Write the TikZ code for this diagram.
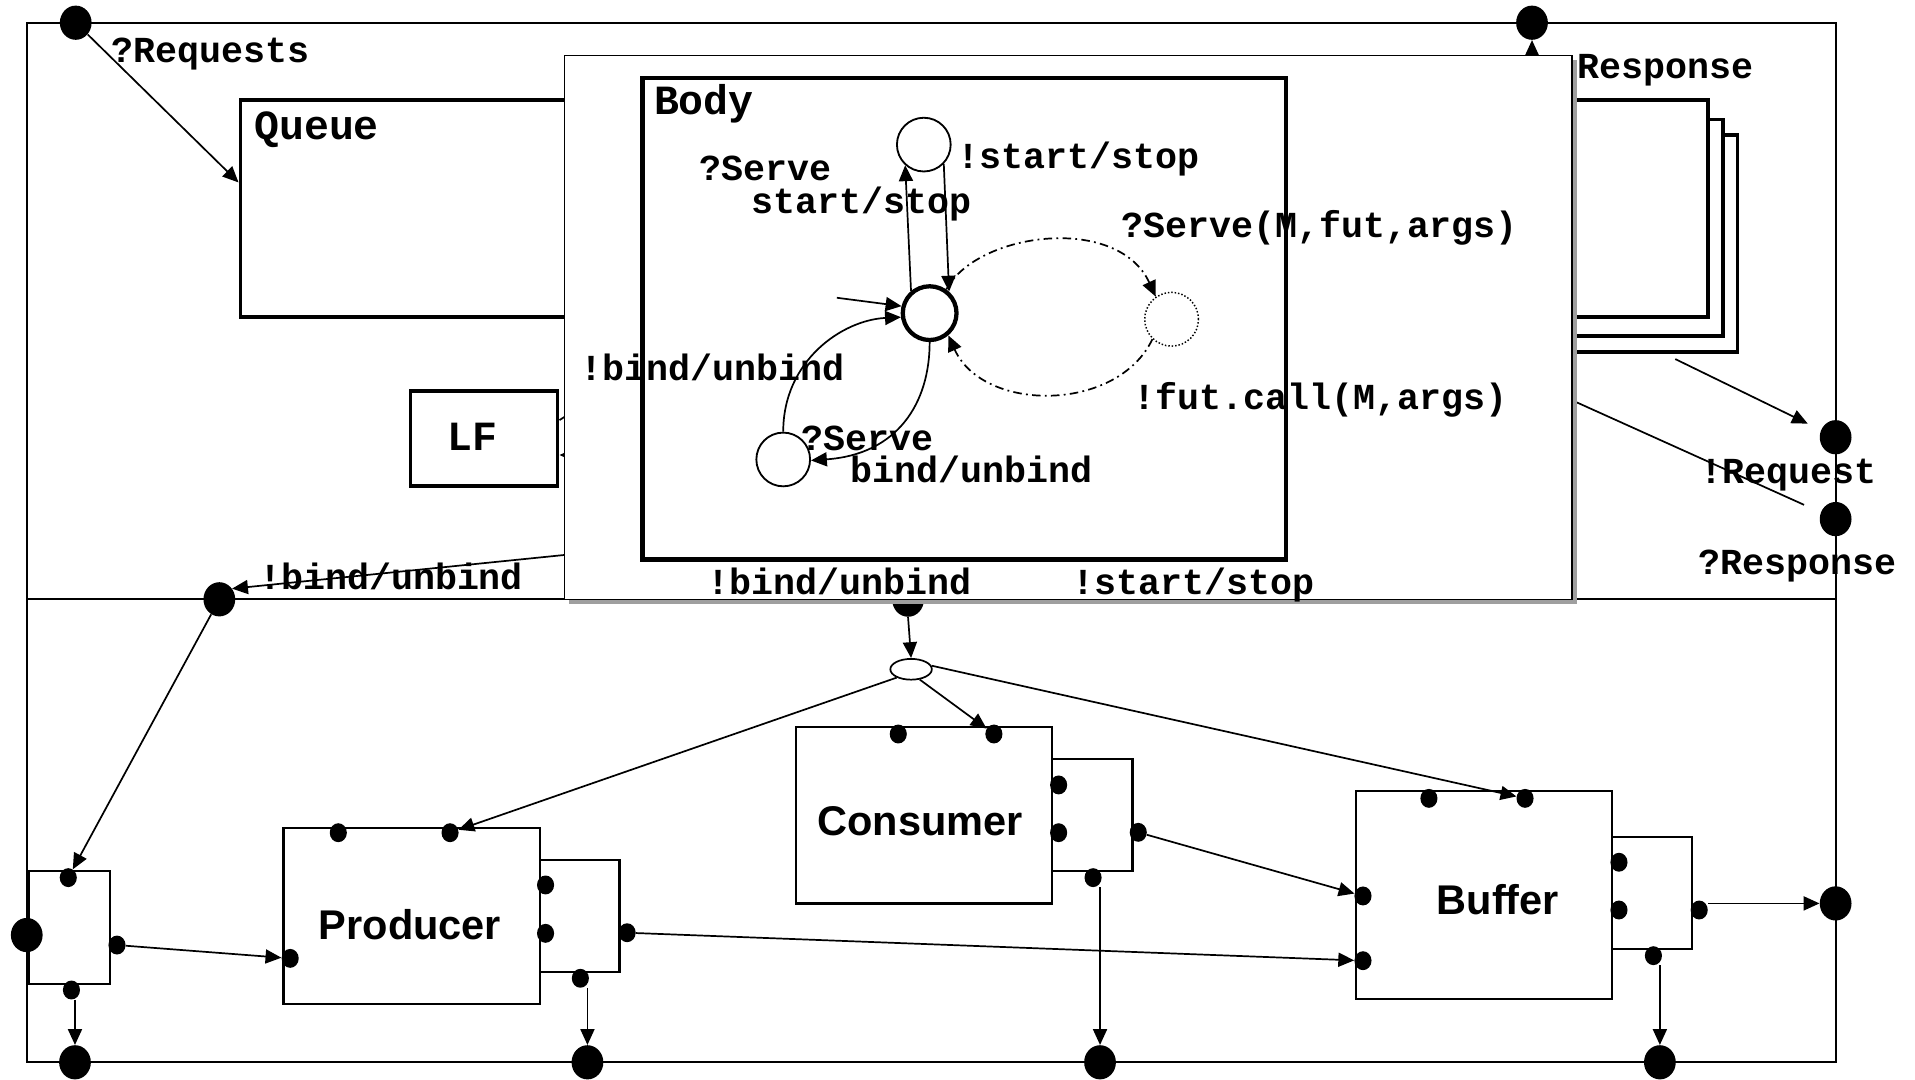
\documentclass[tikz,border=0pt]{standalone}
\usepackage{fontspec}
\setmonofont{Liberation Mono}
\setsansfont{Liberation Sans}
\usetikzlibrary{arrows.meta,shapes.geometric,calc}
\begin{document}
\begin{tikzpicture}[x=1pt,y=-1pt,
  lbl/.style={font=\ttfamily\bfseries\fontsize{30}{32}\selectfont, inner sep=0pt, anchor=base west},
  ttl/.style={font=\ttfamily\bfseries\fontsize{34}{36}\selectfont, inner sep=0pt, anchor=base west},
  bigl/.style={font=\sffamily\bfseries\fontsize{34}{38}\selectfont, inner sep=0pt},
  port/.style={ellipse, fill=black, inner sep=0pt, minimum width=26pt, minimum height=28pt},
  sport/.style={ellipse, fill=black, inner sep=0pt, minimum width=14pt, minimum height=15.5pt},
  ln/.style={line width=1.4pt},
  conn/.style={line width=1.4pt, -{Triangle[length=13pt,width=11.5pt]}},
  tbox/.style={rectangle, draw, line width=3pt, fill=white, inner sep=0pt},
  cbox/.style={rectangle, draw, line width=1.8pt, fill=white, inner sep=0pt},
  state/.style={circle, draw, line width=1.5pt, minimum size=44pt, inner sep=0pt, fill=white},
  dd/.style={dash pattern=on 7pt off 3.5pt on 1.5pt off 3.5pt}
]
\useasboundingbox (0,0) rectangle (1568,884);
\fill[white] (0,0) rectangle (1568,884);
% outer frame and separator
\draw[line width=1.6pt] (22,18.6) rectangle (1503.5,869.8);
\draw[line width=1.6pt] (22,490.7) -- (1503.5,490.7);

% ---------- top section ----------
\node[tbox, minimum width=363.2pt, minimum height=177.3pt] (queue) at (378.4,170.65) {};
\node[ttl] (queuelbl) at (208,114.6) {Queue};
\node[tbox, minimum width=222.7pt, minimum height=178pt] (stk3) at (1311.35,199.3) {};
\node[tbox, minimum width=210.6pt, minimum height=177.3pt] (stk2) at (1305.3,186.45) {};
\node[tbox, minimum width=198.5pt, minimum height=177.5pt] (stk1) at (1299.25,170.75) {};
\node[tbox, minimum width=120.4pt, minimum height=77.5pt] (lf) at (396.4,358.95) {};
\node[ttl, anchor=center] (lflbl) at (387,358) {LF};

\node[port] (pReq) at (62,18.6) {};
\node[port] (pResp) at (1254.4,18.6) {};
\node[port] (pR1) at (1503,358) {};
\node[port] (pR2) at (1503,425) {};
\node[port] (pBind) at (179.6,490.7) {};
\node[port] (pc) at (743.5,491) {};

\node[lbl] (lReq) at (91,51.5) {?Requests};
\node[lbl] (lResp) at (1291.5,64) {Response};
\node[lbl] (lReq2) at (1392.2,395.5) {!Request};
\node[lbl] (lResp2) at (1390.8,470) {?Response};
\node[lbl] (lBind) at (212,483) {!bind/unbind};

\draw[conn] (pReq) -- ($(queue.north west)!0.382!(queue.south west)$);
\coordinate (stkout) at (1371.7,294);
\draw[conn, shorten >=12pt] (stkout) -- (pR1);
\coordinate (ovR) at (1290,329);
\draw[ln, shorten >=15pt] (ovR) -- (pR2);
\coordinate (ovL) at (462.2,454.4);
\draw[conn] (ovL) -- (pBind.40);
\coordinate (lfa) at (470,336.5);
\coordinate (lfb) at (476,372.6);
\draw[ln] ($(lf.east)+(0,-15)$) -- (lfa);
\draw[conn] (lfb) -- ($(lf.east)+(0,13.6)$);

% ---------- overlay with shadow ----------
\fill[gray!75] (466,49) rectangle (1291,494.6);
\node[rectangle, draw, line width=1.2pt, fill=white, minimum width=825.1pt, minimum height=445.6pt, inner sep=0pt] (ovl) at (874.75,268.2) {};
\draw[conn] (ovl.north -| pResp) -- (pResp);

\node[rectangle, draw, line width=3.5pt, minimum width=527pt, minimum height=394pt, inner sep=0pt] (body) at (789.5,261) {};
\node[ttl] (bodylbl) at (535.3,93.5) {Body};

\node[state] (sTop) at (756.4,118.4) {};
\node[state, line width=3.5pt] (sMid) at (761.2,256.4) {};
\node[state] (sBL) at (641.3,376.2) {};
\node[state, dash pattern=on 1.2pt off 1.6pt, line width=1.2pt] (sDot) at (959.3,261.4) {};

\coordinate (init) at (685.2,243.8);
\draw[conn] (init) -- (sMid.166);
\draw[conn] (sMid.130) -- (sTop.228);
\draw[conn] (sTop.-44) -- (sMid.48);
\draw[conn] (sBL.north) .. controls (641.3,295) and (690,262) .. (sMid.188);
\draw[conn] (sMid.south) .. controls (761.2,330) and (735,372) .. (sBL.-2);
\draw[conn, dd] (sMid.55) .. controls (800,190) and (915,175) .. (sDot.125);
\draw[conn, dd] (sDot.-134) .. controls (915,338) and (805,338) .. (sMid.-50);

\node[lbl] (t1a) at (572.6,147.5) {?Serve};
\node[lbl] (t1b) at (614.9,174.5) {start/stop};
\node[lbl] (t2) at (783.8,138) {!start/stop};
\node[lbl] (t3) at (918.4,194.5) {?Serve(M,fut,args)};
\node[lbl] (t4) at (928.2,335.4) {!fut.call(M,args)};
\node[lbl] (t5) at (475,311.3) {!bind/unbind};
\node[lbl] (t6a) at (655.9,368.5) {?Serve};
\node[lbl] (t6b) at (696.1,394.8) {bind/unbind};
\node[lbl] (t7) at (579.1,487) {!bind/unbind};
\node[lbl] (t8) at (878,487) {!start/stop};

% ---------- bottom section ----------
\node[ellipse, draw, line width=1.4pt, fill=white, minimum width=34pt, minimum height=17pt, inner sep=0pt] (sel) at (746,548) {};
\draw[conn] (pc.south) -- (sel.north);

\node[cbox, minimum width=210.2pt, minimum height=144.4pt] (prod) at (337.2,749.9) {};
\node[cbox, minimum width=65pt, minimum height=91.6pt] (prodS) at (474.8,750) {};
\node[cbox, minimum width=210pt, minimum height=144.2pt] (cons) at (756.5,667.6) {};
\node[cbox, minimum width=65.8pt, minimum height=91.5pt] (consS) at (894.4,667.45) {};
\node[cbox, minimum width=210pt, minimum height=170.5pt] (buf) at (1215,732.95) {};
\node[cbox, minimum width=65.7pt, minimum height=91.9pt] (bufS) at (1352.85,731.05) {};
\node[cbox, minimum width=66.5pt, minimum height=92.5pt] (lbox) at (57.05,759.45) {};

\node[bigl] (prodlbl) at (335.7,756.7) {Producer};
\node[bigl] (conslbl) at (753.4,672) {Consumer};
\node[bigl] (buflbl) at (1226.4,737) {Buffer};

\node[sport] (pT1) at (277,681.8) {};
\node[sport] (pT2) at (368.5,681.8) {};
\node[sport] (pL) at (237.6,784.7) {};
\node[sport] (pS1) at (446.7,724.6) {};
\node[sport] (pS2) at (446.7,764.2) {};
\node[sport] (pR) at (513.5,763.7) {};
\node[sport] (pB) at (475.2,801) {};
\node[sport] (cT1) at (735.5,601) {};
\node[sport] (cT2) at (813.8,601) {};
\node[sport] (cS1) at (866.8,642.7) {};
\node[sport] (cS2) at (866.8,681.8) {};
\node[sport] (cR) at (932,681.5) {};
\node[sport] (cB) at (895,718.6) {};
\node[sport] (bT1) at (1170,653.7) {};
\node[sport] (bT2) at (1248.7,653.7) {};
\node[sport] (bL1) at (1116,733.6) {};
\node[sport] (bL2) at (1116,786.6) {};
\node[sport] (bS1) at (1325.6,706) {};
\node[sport] (bS2) at (1325.6,745.1) {};
\node[sport] (bR) at (1391.3,745.1) {};
\node[sport] (bB) at (1353.8,782.5) {};
\node[sport] (lT) at (55.9,718.6) {};
\node[sport] (lR) at (95.8,773.8) {};
\node[sport] (lB) at (58.5,810.6) {};

\node[port] (fL) at (21.9,765.6) {};
\node[port] (fb1) at (61.4,869.8) {};
\node[port] (fb2) at (481,869.8) {};
\node[port] (fb3) at (900.7,869.8) {};
\node[port] (fb4) at (1359.1,869.8) {};
\node[port] (fR) at (1503,739.7) {};

\draw[conn] (sel.210) -- (pT2);
\draw[conn] (sel.-50) -- (cT2);
\draw[conn] (sel.10) -- (bT2);
\draw[conn] (pBind) -- (lT);
\draw[conn] (lR) -- (pL);
\draw[conn] (pR) -- (bL2);
\draw[conn] (cR) -- (bL1);
\draw[conn] (bR.east |- fR) -- (fR);
\draw[conn] (lB.south -| fb1) -- (fb1);
\draw[conn] (pB.south -| fb2) -- (fb2);
\draw[conn] (cB.south -| fb3) -- (fb3);
\draw[conn] (bB.south -| fb4) -- (fb4);
\end{tikzpicture}
\end{document}
